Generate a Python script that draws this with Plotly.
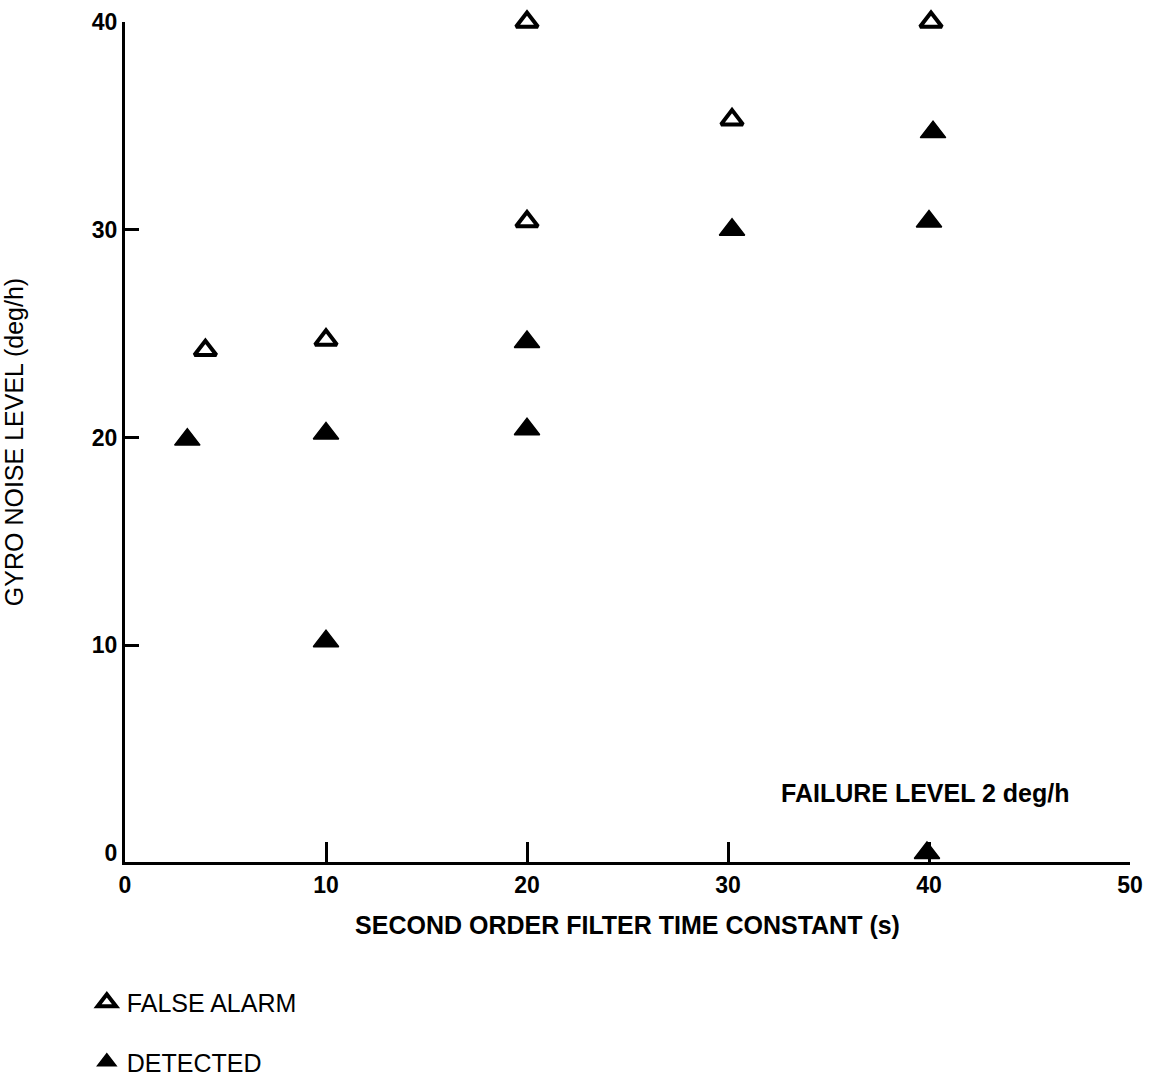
import plotly.graph_objects as go

# Filter time constant (s) vs gyro noise level (deg/h)
false_alarm_x = [4.0, 10.0, 20.0, 20.0, 30.2, 40.1]
false_alarm_y = [24.2, 24.7, 30.4, 40.0, 35.3, 40.0]

detected_x = [3.1, 10.0, 10.0, 20.0, 20.0, 30.2, 40.2, 40.0, 39.9]
detected_y = [19.9, 20.2, 10.2, 24.6, 20.4, 30.0, 34.7, 30.4, 0.0]

x_ticks = [0, 10, 20, 30, 40, 50]
y_ticks = [0, 10, 20, 30, 40]
y_marked_ticks = [10, 20, 30, 40]

FONT = "Liberation Sans, Arial, Helvetica, sans-serif"

fig = go.Figure()

fig.add_trace(go.Scatter(
    x=false_alarm_x, y=false_alarm_y, mode="markers", name="FALSE ALARM",
    marker=dict(symbol="triangle-up", size=19, color="white",
                line=dict(color="black", width=4)),
    cliponaxis=False, legendgroup="fa",
))
fig.add_trace(go.Scatter(
    x=detected_x, y=detected_y, mode="markers", name="DETECTED",
    marker=dict(symbol="triangle-up", size=22, color="black",
                line=dict(color="black", width=1.5)),
    cliponaxis=False, legendgroup="det",
))
# invisible trace carrying the inside tick marks on a twin y axis
fig.add_trace(go.Scatter(x=[None], y=[None], yaxis="y2", showlegend=False,
                         hoverinfo="skip"))

fig.add_annotation(x=39.8, y=2.9, xref="x", yref="y",
                   text="FAILURE LEVEL 2 deg/h", showarrow=False,
                   font=dict(family=FONT, size=25, color="black", weight="bold"))

y_range = [-0.43, 40]

fig.update_layout(
    width=1153, height=1078,
    margin=dict(l=125, r=23, t=22, b=216, autoexpand=False),
    paper_bgcolor="white", plot_bgcolor="white",
    font=dict(family=FONT, color="black"),
    xaxis=dict(
        range=[0, 50], tickvals=x_ticks, showgrid=False, zeroline=False,
        showline=True, linecolor="black", linewidth=3,
        ticks="inside", ticklen=20, tickwidth=3, tickcolor="black",
        tickfont=dict(size=23, weight="bold"),
        title=dict(text="SECOND ORDER FILTER TIME CONSTANT (s)",
                   font=dict(size=25, weight="bold"), standoff=20),
        automargin=False,
    ),
    yaxis=dict(
        range=y_range, tickvals=y_ticks, showgrid=False, zeroline=False,
        showline=True, linecolor="black", linewidth=3, ticks="",
        tickfont=dict(size=23, weight="bold"),
        title=dict(text="GYRO NOISE LEVEL (deg/h)",
                   font=dict(size=25), standoff=62),
        automargin=False,
    ),
    yaxis2=dict(
        range=y_range, overlaying="y", side="left", tickvals=y_marked_ticks,
        showticklabels=False, showgrid=False, zeroline=False, showline=False,
        ticks="inside", ticklen=14, tickwidth=3, tickcolor="black",
    ),
    showlegend=True,
    legend=dict(
        x=-0.038, y=-0.14, xanchor="left", yanchor="top",
        font=dict(size=25, color="black"), tracegroupgap=24,
        bgcolor="rgba(0,0,0,0)", itemsizing="trace",
    ),
)

fig.write_html("out.html")
